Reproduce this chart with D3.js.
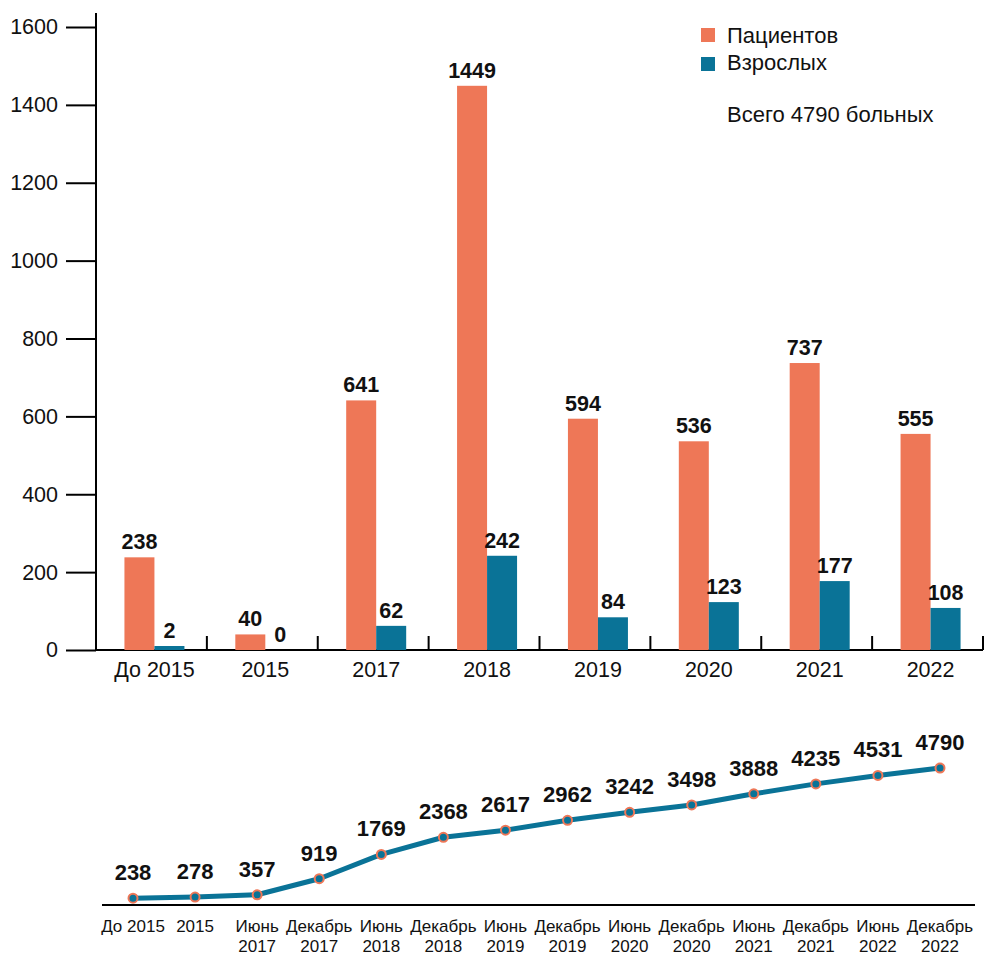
<!DOCTYPE html>
<html>
<head>
<meta charset="utf-8">
<script src="https://cdn.jsdelivr.net/npm/d3@7"></script>
<style>
  body { margin: 0; background: #fff; }
  text { font-family: "Liberation Sans", Arial, sans-serif; }
</style>
</head>
<body>
<div class="chart"></div>
<script>
// bar chart data
const years = ["До 2015", "2015", "2017", "2018", "2019", "2020", "2021", "2022"];
const patients = [238, 40, 641, 1449, 594, 536, 737, 555];
const adults = [2, 0, 62, 242, 84, 123, 177, 108];
const yTicks = [0, 200, 400, 600, 800, 1000, 1200, 1400, 1600];

// cumulative line data
const periods = [
  ["До 2015"], ["2015"], ["Июнь", "2017"], ["Декабрь", "2017"], ["Июнь", "2018"],
  ["Декабрь", "2018"], ["Июнь", "2019"], ["Декабрь", "2019"], ["Июнь", "2020"],
  ["Декабрь", "2020"], ["Июнь", "2021"], ["Декабрь", "2021"], ["Июнь", "2022"], ["Декабрь", "2022"]
];
const totals = [238, 278, 357, 919, 1769, 2368, 2617, 2962, 3242, 3498, 3888, 4235, 4531, 4790];

const orange = "#ee7757";
const blue = "#0a7397";
const font = '"Liberation Sans", Arial, sans-serif';

const width = 984, height = 957;

const svg = d3.select(".chart").append("svg")
  .attr("width", width)
  .attr("height", height);

// ---- top bar chart ----
const xScale = d3.scaleBand()
  .domain(years)
  .range([96, 983]);

const yScale = d3.scaleLinear()
  .domain([0, 1600])
  .range([650, 27]);

const barW = 30;
const shift = 3;

const yAxis = d3.axisLeft(yScale)
  .tickValues(yTicks)
  .tickFormat(d3.format("d"))
  .tickSize(30)
  .tickPadding(8);

svg.append("g")
  .attr("transform", "translate(96,0)")
  .call(yAxis)
  .call(g => g.select(".domain").remove())
  .call(g => g.selectAll(".tick line").attr("stroke", "#000").attr("stroke-width", 2))
  .call(g => g.selectAll(".tick text")
    .attr("font-size", 21.5)
    .attr("fill", "#111")
    .style("font-family", font));

svg.append("line")
  .attr("x1", 96).attr("x2", 96)
  .attr("y1", 13).attr("y2", 650)
  .attr("stroke", "#000").attr("stroke-width", 2);

const xAxis = d3.axisBottom(xScale)
  .tickSize(0)
  .tickPadding(12);

svg.append("g")
  .attr("transform", `translate(${shift},650)`)
  .call(xAxis)
  .call(g => g.select(".domain").remove())
  .call(g => g.selectAll(".tick text")
    .attr("font-size", 21.5)
    .attr("fill", "#111")
    .style("font-family", font));

svg.append("line")
  .attr("x1", 95).attr("x2", xScale.range()[1])
  .attr("y1", 650).attr("y2", 650)
  .attr("stroke", "#000").attr("stroke-width", 2);

// separators between categories
const bounds = years.slice(1).map(d => xScale(d)).concat([xScale.range()[1]]);
svg.append("g")
  .selectAll("line")
  .data(bounds)
  .join("line")
  .attr("x1", d => d).attr("x2", d => d)
  .attr("y1", 650).attr("y2", 636)
  .attr("stroke", "#000").attr("stroke-width", 2);

const rows = years.map((y, i) => ({ year: y, p: patients[i], a: adults[i] }));
const cx = d => xScale(d.year) + xScale.bandwidth() / 2 + shift;

function barTop(v) {
  // keep tiny non-zero values visible
  return v > 0 ? Math.min(yScale(v), 646) : yScale(0);
}

svg.append("g")
  .selectAll("rect")
  .data(rows)
  .join("rect")
  .attr("x", d => cx(d) - barW)
  .attr("y", d => barTop(d.p))
  .attr("width", barW)
  .attr("height", d => yScale(0) - barTop(d.p))
  .attr("fill", orange);

svg.append("g")
  .selectAll("rect")
  .data(rows)
  .join("rect")
  .attr("x", d => cx(d))
  .attr("y", d => barTop(d.a))
  .attr("width", barW)
  .attr("height", d => yScale(0) - barTop(d.a))
  .attr("fill", blue);

const lbl = svg.append("g")
  .attr("font-size", 21.5)
  .attr("font-weight", "bold")
  .attr("text-anchor", "middle")
  .attr("fill", "#111");

lbl.selectAll(".lp")
  .data(rows)
  .join("text")
  .attr("class", "lp")
  .attr("x", d => cx(d) - barW / 2)
  .attr("y", d => barTop(d.p) - 8)
  .text(d => d.p);

lbl.selectAll(".la")
  .data(rows)
  .join("text")
  .attr("class", "la")
  .attr("x", d => cx(d) + barW / 2)
  .attr("y", d => barTop(d.a) - 8)
  .text(d => d.a);

// legend
const legend = svg.append("g").attr("font-size", 22).attr("fill", "#111");
[["Пациентов", orange], ["Взрослых", blue]].forEach((d, i) => {
  legend.append("rect")
    .attr("x", 701).attr("y", 28 + i * 29)
    .attr("width", 14).attr("height", 14)
    .attr("fill", d[1]);
  legend.append("text")
    .attr("x", 727).attr("y", 43 + i * 27)
    .text(d[0]);
});
legend.append("text")
  .attr("x", 727).attr("y", 122)
  .text("Всего 4790 больных");

// ---- bottom cumulative line ----
const x2 = d3.scalePoint()
  .domain(d3.range(periods.length))
  .range([133, 940]);

const y2 = d3.scaleLinear()
  .domain([0, 5000])
  .range([905, 762]);

svg.append("line")
  .attr("x1", 102).attr("x2", 975)
  .attr("y1", 905).attr("y2", 905)
  .attr("stroke", "#000").attr("stroke-width", 2);

const line = d3.line()
  .x((d, i) => x2(i))
  .y(d => y2(d));

svg.append("path")
  .datum(totals)
  .attr("fill", "none")
  .attr("stroke", blue)
  .attr("stroke-width", 5)
  .attr("stroke-linejoin", "round")
  .attr("d", line);

svg.append("g")
  .selectAll("circle")
  .data(totals)
  .join("circle")
  .attr("cx", (d, i) => x2(i))
  .attr("cy", d => y2(d))
  .attr("r", 4.5)
  .attr("fill", blue)
  .attr("stroke", orange)
  .attr("stroke-width", 2);

svg.append("g")
  .attr("font-size", 22)
  .attr("font-weight", "bold")
  .attr("text-anchor", "middle")
  .attr("fill", "#111")
  .selectAll("text")
  .data(totals)
  .join("text")
  .attr("x", (d, i) => x2(i))
  .attr("y", d => y2(d) - 18)
  .text(d => d);

const pl = svg.append("g")
  .attr("font-size", 17)
  .attr("text-anchor", "middle")
  .attr("fill", "#111")
  .selectAll("text")
  .data(periods)
  .join("text")
  .attr("x", (d, i) => x2(i))
  .attr("y", 932);

pl.selectAll("tspan")
  .data(d => d)
  .join("tspan")
  .attr("x", function() { return this.parentNode.getAttribute("x"); })
  .attr("dy", (d, i) => i === 0 ? 0 : 20)
  .text(d => d);
</script>
</body>
</html>
